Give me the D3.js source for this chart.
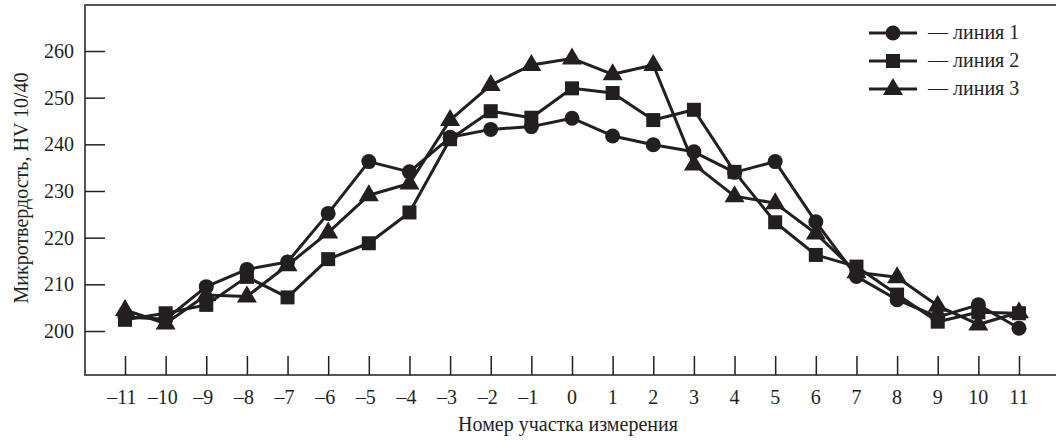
<!DOCTYPE html>
<html>
<head>
<meta charset="utf-8">
<script src="https://cdn.jsdelivr.net/npm/d3@7"></script>
<style>
	body { margin: 0; background: #fff; overflow: hidden; }
</style>
</head>
<body>
<svg id="chart" width="1056" height="440"></svg>
<script>
var positions = [-11, -10, -9, -8, -7, -6, -5, -4, -3, -2, -1, 0, 1, 2, 3, 4, 5, 6, 7, 8, 9, 10, 11];
var yTicks = [200, 210, 220, 230, 240, 250, 260];
var line1 = [203, 202.5, 209.5, 213.2, 214.8, 225.2, 236.3, 234.1, 241.5, 243.2, 243.8, 245.6, 241.8, 239.9, 238.4, 234, 236.3, 223.4, 211.7, 206.7, 203, 205.6, 200.6];
var line2 = [202.4, 203.8, 205.6, 211.6, 207.2, 215.4, 218.8, 225.4, 241.1, 247.1, 245.7, 252, 251, 245.2, 247.4, 234.1, 223.3, 216.3, 213.8, 207.8, 202, 204, 203.8];
var line3 = [204.5, 201.6, 207.7, 207.4, 214.1, 221.1, 229.1, 231.6, 245.2, 252.7, 257, 258.4, 255, 257, 235.7, 228.9, 227.4, 220.9, 212.6, 211.5, 205.4, 201.4, 204];
var seriesNames = ["— линия 1", "— линия 2", "— линия 3"];
var markers = ["circle", "square", "triangle"];

var ink = "#231f20";
var serif = "'Liberation Serif', 'Times New Roman', Times, 'DejaVu Serif', serif";
var svg = d3.select("#chart");

var x = d3.scaleLinear().domain([-11, 11]).range([125, 1019]);
var y = d3.scaleLinear().domain([200, 260]).range([331, 51]);

var frameLeft = 85, frameTop = 5, frameBottom = 375, frameRight = 1062;

function label(g, size)
{
	return g.append("text").attr("font-family", serif).attr("font-size", size).attr("fill", ink);
}

function drawMarker(g, kind, cx, cy)
{
	if (kind === "circle") {
		g.append("circle").attr("cx", cx).attr("cy", cy).attr("r", 7.5).attr("fill", ink);
	} else if (kind === "square") {
		g.append("rect").attr("x", cx - 7).attr("y", cy - 7).attr("width", 14).attr("height", 14).attr("fill", ink);
	} else {
		var pts = [[cx, cy - 11], [cx - 10, cy + 6], [cx + 10, cy + 6]];
		g.append("polygon").attr("points", pts.map(function(p) { return p.join(","); }).join(" ")).attr("fill", ink);
	}
}

// frame: left, top and bottom only, right side runs off the picture
svg.append("path")
	.attr("d", "M" + frameRight + "," + frameTop + "H" + frameLeft + "V" + frameBottom + "H" + frameRight)
	.attr("fill", "none")
	.attr("stroke", "#555")
	.attr("stroke-width", 2);

// y axis, inward ticks
var yAxis = d3.axisRight(y).tickValues(yTicks).tickSize(20).tickFormat("");
svg.append("g").attr("transform", "translate(" + frameLeft + ",0)").call(yAxis)
	.call(function(g) { g.select(".domain").remove(); })
	.selectAll("line").attr("stroke", ink).attr("stroke-width", 1.5);
yTicks.forEach(function(d) {
	label(svg, 20).attr("x", 74).attr("y", y(d) + 7).attr("text-anchor", "end").text(d);
});

// x axis, ticks pointing up from the bottom line
var xAxis = d3.axisTop(x).tickValues(positions).tickSize(19).tickFormat("");
svg.append("g").attr("transform", "translate(0," + frameBottom + ")").call(xAxis)
	.call(function(g) { g.select(".domain").remove(); })
	.selectAll("line").attr("stroke", ink).attr("stroke-width", 1.5);
positions.forEach(function(d) {
	label(svg, 20).attr("x", x(d) - (d < 0 ? 3 : 0)).attr("y", 404)
		.attr("text-anchor", "middle")
		.text(d < 0 ? "\u2013" + (-d) : d);
});

label(svg, 20).attr("x", 568).attr("y", 431).attr("text-anchor", "middle")
	.text("Номер участка измерения");
label(svg, 20).attr("transform", "translate(28,188) rotate(-90)").attr("text-anchor", "middle")
	.text("Микротвердость, HV 10/40");

// series
var allSeries = [line1, line2, line3];
var lineGen = d3.line().x(function(d, i) { return x(positions[i]); }).y(function(d) { return y(d); });

allSeries.forEach(function(values, s) {
	var g = svg.append("g");
	g.append("path").datum(values).attr("d", lineGen)
		.attr("fill", "none").attr("stroke", ink).attr("stroke-width", 3).attr("stroke-linejoin", "round");
	values.forEach(function(v, i) {
		drawMarker(g, markers[s], x(positions[i]), y(v));
	});
});

// legend
var legendRows = [33, 61, 89];
seriesNames.forEach(function(name, s) {
	var g = svg.append("g");
	var ly = legendRows[s];
	g.append("line").attr("x1", 869).attr("x2", 917).attr("y1", ly).attr("y2", ly)
		.attr("stroke", ink).attr("stroke-width", 3);
	drawMarker(g, markers[s], 893, ly);
	label(g, 20).attr("x", 928).attr("y", ly + 6).text(name);
});
</script>
</body>
</html>
